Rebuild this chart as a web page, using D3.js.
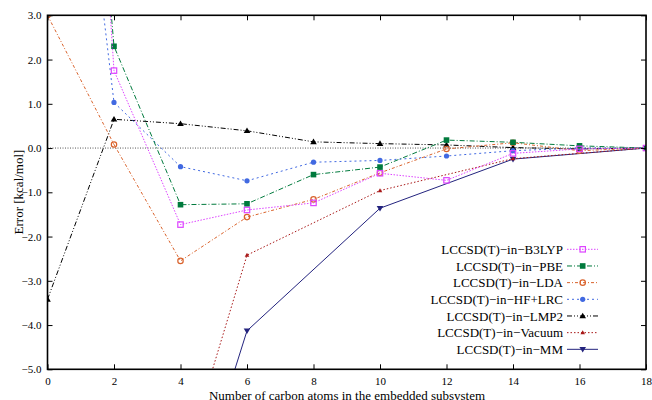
<!DOCTYPE html>
<html><head><meta charset="utf-8">
<script src="https://cdn.jsdelivr.net/npm/d3@7"></script>
<style>body{margin:0;background:#fff}svg{display:block}svg text{font-family:"Liberation Serif",Tinos,"Times New Roman",Times,"Nimbus Roman","DejaVu Serif",serif !important}</style>
</head><body>
<script>
const xFull = [0,2,4,6,8,10,12,14,16,18];
const xSparse = [4,6,10,14,18];
const b3lyp = [24.5,1.75,-1.73,-1.40,-1.24,-0.57,-0.73,-0.12,-0.02,0];
const pbe = [19.8,2.30,-1.28,-1.26,-0.60,-0.43,0.18,0.13,0.05,0];
const lda = [3.0,0.08,-2.55,-1.56,-1.16,-0.56,-0.02,0.12,-0.06,0];
const hflrc = [13.7,1.03,-0.42,-0.74,-0.32,-0.28,-0.18,-0.06,0.0,0];
const lmp2 = [-3.42,0.65,0.55,0.39,0.14,0.10,0.07,0.01,-0.02,0];
const vacuum = [-7.4,-2.42,-0.96,-0.24,0];
const mm = [-8.9,-4.13,-1.36,-0.25,0];
const names = ["LCCSD(T)\u2212in\u2212B3LYP","LCCSD(T)\u2212in\u2212PBE","LCCSD(T)\u2212in\u2212LDA","LCCSD(T)\u2212in\u2212HF+LRC","LCCSD(T)\u2212in\u2212LMP2","LCCSD(T)\u2212in\u2212Vacuum","LCCSD(T)\u2212in\u2212MM"];
const xTicks = [0,2,4,6,8,10,12,14,16,18];
const yTicks = [3,2,1,0,-1,-2,-3,-4,-5];

const series = [
 {name:names[0], xs:xFull, ys:b3lyp, color:"#dd44ff", dash:"1.5,1.5", marker:"sqOpen"},
 {name:names[1], xs:xFull, ys:pbe, color:"#007a3d", dash:"5,2,1,2", marker:"sqFill"},
 {name:names[2], xs:xFull, ys:lda, color:"#d9622b", dash:"3,2,1,2", marker:"circOpen"},
 {name:names[3], xs:xFull, ys:hflrc, color:"#4169e1", dash:"2,3", marker:"circFill"},
 {name:names[4], xs:xFull, ys:lmp2, color:"#000000", dash:"5,2,1,2,1,2", marker:"triUp"},
 {name:names[5], xs:xSparse, ys:vacuum, color:"#a81818", dash:"1.5,2", marker:"triSmall"},
 {name:names[6], xs:xSparse, ys:mm, color:"#23237e", dash:null, marker:"triDown"}
];

const FONT = '"Liberation Serif", Tinos, "Times New Roman", Times, serif';
const W=652,H=400;
const x = d3.scaleLinear().domain([0,18]).range([47.5,646]);
const y = d3.scaleLinear().domain([-5,3]).range([369.3,15.3]);
const svg = d3.select("body").append("svg").attr("width",W).attr("height",H);
svg.append("defs").append("clipPath").attr("id","clip").append("rect")
  .attr("x",x(0)).attr("y",y(3)).attr("width",x(18)-x(0)).attr("height",y(-5)-y(3));

// zero line
svg.append("line").attr("x1",x(0)).attr("x2",x(18)).attr("y1",y(0)).attr("y2",y(0))
  .attr("stroke","#555").attr("stroke-width",1).attr("stroke-dasharray","1,1.5");

function drawMarker(g, type, cx, cy, color){
  if(type==="sqOpen") g.append("rect").attr("x",cx-2.7).attr("y",cy-2.7).attr("width",5.4).attr("height",5.4).attr("fill","none").attr("stroke",color).attr("stroke-width",1.2);
  else if(type==="sqFill") g.append("rect").attr("x",cx-2.8).attr("y",cy-2.8).attr("width",5.6).attr("height",5.6).attr("fill",color);
  else if(type==="circOpen") g.append("circle").attr("cx",cx).attr("cy",cy).attr("r",2.7).attr("fill","none").attr("stroke",color).attr("stroke-width",1.2);
  else if(type==="circFill") g.append("circle").attr("cx",cx).attr("cy",cy).attr("r",2.6).attr("fill",color);
  else if(type==="triUp") g.append("path").attr("d",`M${cx},${cy-3.3}L${cx+3.3},${cy+2.3}L${cx-3.3},${cy+2.3}Z`).attr("fill",color);
  else if(type==="triSmall") g.append("path").attr("d",`M${cx},${cy-2.3}L${cx+2.3},${cy+1.6}L${cx-2.3},${cy+1.6}Z`).attr("fill",color);
  else if(type==="triDown") g.append("path").attr("d",`M${cx},${cy+3.3}L${cx+3.3},${cy-2.3}L${cx-3.3},${cy-2.3}Z`).attr("fill",color);
}

const plot = svg.append("g").attr("clip-path","url(#clip)");
const line = d3.line().x(d=>x(d[0])).y(d=>y(d[1]));
series.slice().reverse().forEach(s=>{
  const pts = s.xs.map((v,i)=>[v,s.ys[i]]);
  const p = plot.append("path").datum(pts).attr("d",line).attr("fill","none")
    .attr("stroke",s.color).attr("stroke-width",1);
  if(s.dash) p.attr("stroke-dasharray",s.dash);
  pts.forEach(d=>{ if(d[1]<=3.05 && d[1]>=-5.05) drawMarker(plot,s.marker,x(d[0]),y(d[1]),s.color); });
});

// axes
const fmt = v => (v<0?"\u2212":"")+Math.abs(v).toFixed(1);
const axB = svg.append("g").attr("transform",`translate(0,${y(-5)})`)
  .call(d3.axisBottom(x).tickValues(xTicks).tickSize(-5).tickPadding(8).tickFormat(d3.format("d")));
const axT = svg.append("g").attr("transform",`translate(0,${y(3)})`)
  .call(d3.axisTop(x).tickValues(xTicks).tickSize(-5).tickFormat(""));
const axL = svg.append("g").attr("transform",`translate(${x(0)},0)`)
  .call(d3.axisLeft(y).tickValues(yTicks).tickSize(-5).tickPadding(6).tickFormat(fmt));
const axR = svg.append("g").attr("transform",`translate(${x(18)},0)`)
  .call(d3.axisRight(y).tickValues(yTicks).tickSize(-5).tickFormat(""));
[axB,axT,axL,axR].forEach(a=>{
  a.attr("font-family",FONT);
  a.select(".domain").remove();
  a.selectAll(".tick line").attr("stroke","#000").attr("stroke-width",1);
  a.selectAll("text").attr("font-size",11).attr("fill","#000").attr("font-family",FONT);
});
svg.append("rect").attr("x",x(0)).attr("y",y(3)).attr("width",x(18)-x(0)).attr("height",y(-5)-y(3))
  .attr("fill","none").attr("stroke","#000").attr("stroke-width",1.6);

// axis labels
svg.append("text").attr("x",347).attr("y",399.5).attr("text-anchor","middle").attr("font-size",13).attr("font-family",FONT)
  .text("Number of carbon atoms in the embedded subsystem");
svg.append("text").attr("transform",`translate(23,192) rotate(-90)`).attr("text-anchor","middle").attr("font-size",13).attr("font-family",FONT)
  .text("Error [kcal/mol]");

// legend
const leg = svg.append("g");
series.forEach((s,i)=>{
  const ly = 249.3 + i*16.67;
  leg.append("text").attr("x",563).attr("y",ly).attr("dy","0.35em").attr("text-anchor","end").attr("font-size",13).attr("font-family",FONT).text(s.name);
  const l = leg.append("line").attr("x1",567).attr("x2",598).attr("y1",ly).attr("y2",ly).attr("stroke",s.color).attr("stroke-width",1);
  if(s.dash) l.attr("stroke-dasharray",s.dash);
  drawMarker(leg,s.marker,582.7,ly,s.color);
});
</script>
</body></html>
